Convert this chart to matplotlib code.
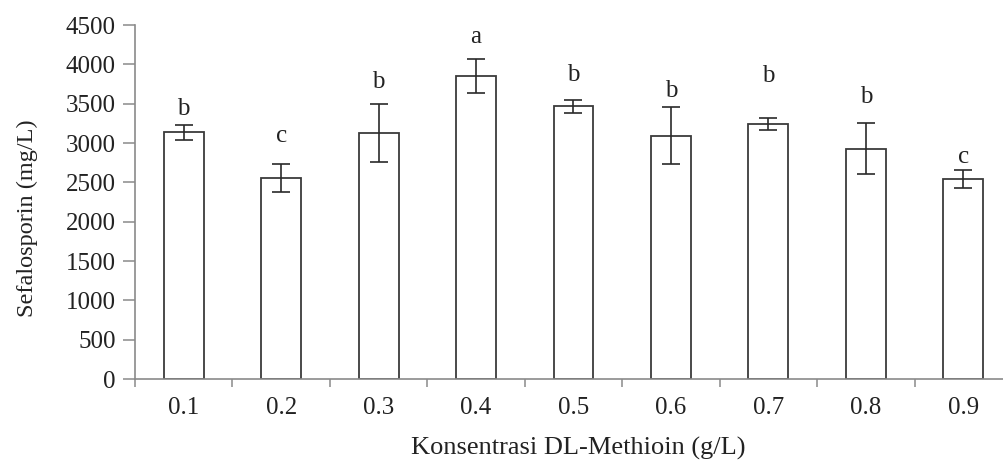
import matplotlib
matplotlib.use("Agg")
import matplotlib.pyplot as plt
import numpy as np

categories = ["0.1", "0.2", "0.3", "0.4", "0.5", "0.6", "0.7", "0.8", "0.9"]
values = [3135, 2551, 3130, 3855, 3466, 3093, 3241, 2930, 2546]
errors = [95, 178, 372, 215, 80, 362, 77, 318, 113]
letters = ["b", "c", "b", "a", "b", "b", "b", "b", "c"]
letter_y = [3356, 3017, 3699, 4271, 3792, 3588, 3779, 3512, 2750]
yticks = [0, 500, 1000, 1500, 2000, 2500, 3000, 3500, 4000, 4500]

plt.rcParams['font.family'] = ['Liberation Serif', 'DejaVu Serif']

fig = plt.figure(figsize=(10.04, 4.61), dpi=100)
ax = fig.add_axes([135/1004, 1-379/461, (1012-135)/1004, (379-25)/461])

x = np.arange(len(categories))
edge = '#3a3a3a'
ax.bar(x, values, width=0.41, color='white', edgecolor=edge, linewidth=1.3, zorder=2)
ax.errorbar(x, values, yerr=errors, fmt='none', ecolor='#2a2a2a', elinewidth=1.2,
            capsize=6.5, capthick=1.2, zorder=3)
for xi, lt, ly in zip(x, letters, letter_y):
    ax.text(xi, ly, lt, ha='center', va='baseline', fontsize=18, color='#222222')

ax.set_xlim(-0.5, len(categories) - 0.5)
ax.set_ylim(0, 4500)
ax.set_yticks(yticks)
ax.set_yticklabels([str(t) for t in yticks])
ax.set_xticks(x)
ax.set_xticklabels(categories)
ax.set_xticks(np.arange(-0.5, len(categories), 1.0), minor=True)

for s in ['top', 'right']:
    ax.spines[s].set_visible(False)
for s in ['left', 'bottom']:
    ax.spines[s].set_color('#8a8a8a')
    ax.spines[s].set_linewidth(1.2)

ax.tick_params(axis='y', direction='out', length=9, width=1.1, color='#8a8a8a',
               labelsize=18, pad=5, labelcolor='#222222')
ax.tick_params(axis='x', which='major', length=0, labelsize=18, pad=13, labelcolor='#222222')
ax.tick_params(axis='x', which='minor', direction='out', length=6, width=1.1, color='#8a8a8a')

ax.set_xlabel("Konsentrasi DL-Methioin (g/L)", fontsize=19, color='#222222')
ax.set_ylabel("Sefalosporin (mg/L)", fontsize=17.5, color='#222222')
ax.xaxis.set_label_coords(0.505, -0.163)
ax.yaxis.set_label_coords(-0.111, 0.455)

fig.savefig("out.png", dpi=100)
